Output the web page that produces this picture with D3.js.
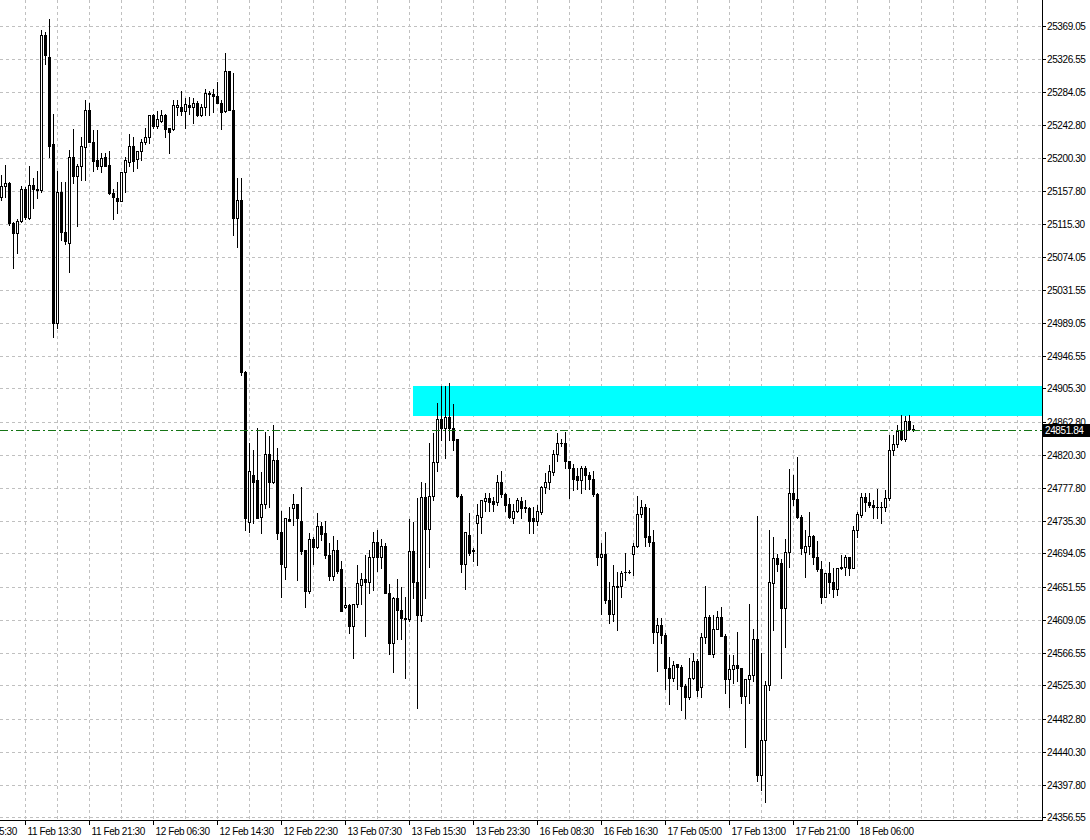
<!DOCTYPE html>
<html>
<head>
<meta charset="utf-8">
<script src="https://cdn.jsdelivr.net/npm/d3@7"></script>
<style>
  body { margin: 0; background: #fff; }
  svg text { font-family: "Liberation Sans", Arial, sans-serif; font-size: 10px; letter-spacing: -0.4px; fill: #000; }
</style>
</head>
<body>
<script>
var width = 1090,
    height = 840,
    plotRight = 1042,
    plotBottom = 821;

// M30 bars, oldest first
var open = [25150,25164,25168,25117,25104,25120,25161,25123,25165,25160,25159,25357,25330,25218,24989,25157,25106,25092,25202,25177,
  25190,25214,25262,25220,25197,25190,25201,25191,25155,25149,25145,25182,25195,25215,25199,25209,25220,25227,25255,25241,
  25248,25255,25238,25237,25265,25266,25260,25268,25265,25271,25255,25265,25282,25282,25279,25271,25260,25311,25262,25123,
  25147,24926,24734,24794,24788,24741,24757,24821,24786,24814,24721,24677,24738,24752,24757,24735,24698,24646,24713,24702,
  24729,24720,24692,24665,24699,24674,24625,24628,24601,24629,24654,24662,24658,24690,24709,24690,24704,24644,24579,24637,
  24622,24611,24610,24697,24657,24615,24766,24726,24767,24811,24866,24854,24869,24855,24840,24768,24681,24718,24699,24733,
  24741,24761,24765,24761,24760,24786,24770,24757,24740,24748,24761,24753,24752,24739,24736,24747,24779,24785,24798,24821,
  24836,24835,24812,24803,24793,24788,24804,24795,24790,24770,24689,24693,24634,24617,24653,24652,24671,24671,24693,24703,
  24744,24753,24716,24709,24593,24602,24590,24547,24535,24552,24549,24525,24510,24535,24557,24523,24587,24613,24566,24598,
  24613,24589,24533,24546,24551,24547,24512,24533,24539,24584,24411,24455,24526,24656,24688,24682,24624,24696,24772,24764,
  24741,24696,24703,24716,24690,24674,24639,24669,24657,24648,24675,24677,24689,24676,24724,24743,24766,24760,24756,24754,
  24754,24753,24765,24826,24834,24851,24840,24863,24853];
var high = [25179,25191,25170,25118,25122,25164,25163,25190,25175,25183,25364,25361,25378,25257,25183,25169,25169,25210,25237,25193,
  25227,25274,25270,25236,25236,25206,25207,25209,25161,25170,25182,25202,25231,25227,25209,25224,25238,25255,25256,25260,
  25261,25257,25239,25274,25274,25286,25277,25278,25277,25273,25269,25288,25286,25288,25298,25274,25335,25312,25309,25175,
  25174,24927,24836,24827,24855,24798,24849,24844,24858,24829,24749,24739,24754,24770,24758,24779,24699,24720,24715,24746,
  24734,24736,24707,24717,24711,24685,24651,24629,24629,24679,24669,24692,24699,24722,24724,24713,24707,24655,24638,24661,
  24651,24638,24738,24734,24765,24785,24784,24835,24848,24886,24909,24909,24912,24885,24841,24770,24721,24746,24701,24758,
  24763,24771,24772,24766,24795,24799,24771,24765,24758,24765,24766,24762,24753,24753,24756,24780,24797,24807,24826,24848,
  24841,24849,24813,24809,24804,24806,24806,24798,24800,24771,24707,24722,24657,24679,24670,24672,24695,24673,24708,24768,
  24762,24757,24752,24724,24611,24611,24592,24561,24557,24553,24551,24527,24560,24567,24559,24592,24653,24615,24615,24621,
  24625,24591,24564,24564,24594,24548,24533,24630,24598,24742,24567,24531,24724,24715,24694,24687,24713,24802,24795,24817,
  24743,24724,24747,24718,24710,24685,24669,24683,24675,24675,24692,24692,24690,24729,24747,24771,24771,24772,24762,24777,
  24760,24775,24846,24846,24858,24871,24870,24871,24858];
var low = [25146,25150,25115,25060,25078,25118,25122,25122,25136,25149,25157,25321,25202,24971,24982,25095,25090,25054,25168,25113,
  25172,25172,25220,25183,25186,25182,25190,25154,25122,25130,25145,25157,25190,25183,25187,25197,25218,25219,25239,25239,
  25246,25227,25207,25236,25255,25255,25239,25257,25245,25254,25254,25255,25255,25259,25270,25237,25259,25261,25101,25086,
  24923,24724,24721,24733,24739,24720,24752,24753,24784,24713,24638,24661,24736,24730,24660,24694,24625,24644,24680,24701,
  24711,24688,24660,24660,24669,24620,24624,24592,24560,24625,24630,24589,24644,24647,24672,24675,24643,24566,24542,24585,
  24585,24535,24608,24637,24496,24608,24637,24677,24762,24799,24839,24816,24839,24826,24766,24670,24648,24692,24685,24679,
  24720,24749,24749,24749,24756,24766,24749,24739,24733,24747,24740,24747,24720,24720,24730,24745,24771,24777,24794,24813,
  24832,24803,24765,24775,24777,24772,24777,24777,24768,24679,24617,24631,24605,24608,24596,24638,24660,24669,24667,24702,
  24741,24703,24704,24579,24544,24579,24521,24502,24531,24521,24494,24484,24508,24534,24512,24510,24579,24565,24562,24597,
  24588,24516,24498,24528,24531,24503,24446,24503,24531,24403,24391,24376,24519,24596,24672,24535,24575,24677,24756,24740,
  24694,24664,24694,24681,24672,24631,24638,24644,24638,24641,24674,24666,24666,24675,24715,24741,24749,24753,24739,24740,
  24733,24749,24763,24820,24830,24839,24838,24852,24851];
var close = [25164,25168,25117,25104,25120,25161,25124,25165,25160,25159,25357,25332,25216,24989,25157,25105,25094,25202,25177,25190,
  25215,25261,25221,25196,25190,25200,25190,25155,25150,25145,25182,25197,25215,25196,25209,25221,25227,25255,25241,25250,
  25255,25237,25234,25268,25268,25260,25269,25265,25271,25255,25266,25283,25283,25279,25271,25259,25311,25262,25123,25147,
  24926,24739,24800,24786,24740,24757,24822,24786,24814,24720,24681,24739,24736,24757,24739,24697,24646,24713,24702,24729,
  24719,24692,24665,24699,24672,24621,24628,24601,24629,24656,24662,24658,24689,24709,24689,24704,24644,24579,24637,24622,
  24611,24610,24697,24657,24615,24766,24726,24768,24811,24866,24854,24869,24855,24839,24767,24681,24721,24695,24697,24743,
  24762,24765,24760,24758,24785,24770,24756,24741,24749,24762,24752,24752,24736,24736,24749,24779,24786,24799,24821,24835,
  24835,24812,24803,24790,24788,24804,24795,24790,24770,24689,24693,24634,24617,24652,24651,24669,24670,24671,24704,24744,
  24753,24715,24709,24593,24602,24590,24547,24535,24551,24549,24524,24510,24535,24557,24520,24587,24613,24566,24598,24613,
  24589,24533,24546,24551,24547,24512,24533,24539,24584,24411,24455,24526,24657,24688,24681,24624,24696,24772,24764,24741,
  24701,24703,24716,24690,24674,24639,24669,24657,24648,24675,24677,24689,24676,24724,24744,24766,24760,24756,24754,24754,
  24753,24765,24826,24834,24851,24840,24863,24853,24851.84];

var lastPrice = 24851.84;

var yTicks = [25369.05,25326.55,25284.05,25242.80,25200.30,25157.80,25115.30,25074.05,25031.55,24989.05,24946.55,24905.30,
  24862.80,24820.30,24777.80,24735.30,24694.05,24651.55,24609.05,24566.55,24525.30,24482.80,24440.30,24397.80,24356.55];

var timeLabels = ["11 Feb 05:30","11 Feb 13:30","11 Feb 21:30","12 Feb 06:30","12 Feb 14:30","12 Feb 22:30","13 Feb 07:30",
  "13 Feb 15:30","13 Feb 23:30","16 Feb 08:30","16 Feb 16:30","17 Feb 05:00","17 Feb 13:00","17 Feb 21:00","18 Feb 06:00"];
var timeTickBars = [-10,6,22,38,54,70,86,102,118,134,150,166,182,198,214];

// supply zone rectangle
var zoneTop = 24908.4,
    zoneBottom = 24870,
    zoneStartBar = 103,
    zoneEndBar = 270;

var x = d3.scaleLinear()
    .domain([0, 260])
    .range([1.5, 1041.5]);

var y = d3.scaleLinear()
    .domain([24397.80, 25369.05])
    .range([785, 26])
    .interpolate(d3.interpolateRound);

var svg = d3.select("body").append("svg")
    .attr("width", width)
    .attr("height", height);

svg.append("rect")
    .attr("width", width)
    .attr("height", height)
    .attr("fill", "#fff");

svg.append("defs").append("clipPath")
    .attr("id", "plot")
  .append("rect")
    .attr("x", 0)
    .attr("y", 0)
    .attr("width", plotRight)
    .attr("height", plotBottom);

// grid
var grid = svg.append("g")
    .attr("stroke", "#c0c0c0")
    .attr("stroke-dasharray", "3,3")
    .attr("shape-rendering", "crispEdges");

grid.selectAll(".hgrid")
    .data(yTicks)
  .enter().append("line")
    .attr("class", "hgrid")
    .attr("x1", 0)
    .attr("x2", plotRight)
    .attr("y1", function(d) { return y(d) + 0.5; })
    .attr("y2", function(d) { return y(d) + 0.5; });

grid.selectAll(".vgrid")
    .data(d3.range(6, 260, 8))
  .enter().append("line")
    .attr("class", "vgrid")
    .attr("x1", function(d) { return x(d); })
    .attr("x2", function(d) { return x(d); })
    .attr("y1", 0)
    .attr("y2", plotBottom);

var plot = svg.append("g")
    .attr("clip-path", "url(#plot)");

plot.append("rect")
    .attr("x", x(zoneStartBar) - 0.5)
    .attr("y", y(zoneTop))
    .attr("width", x(zoneEndBar) - x(zoneStartBar))
    .attr("height", y(zoneBottom) - y(zoneTop))
    .attr("fill", "#00ffff");

var bars = close.map(function(c, i) {
  return { i: i, o: open[i], h: high[i], l: low[i], c: c };
});

var candle = plot.selectAll(".bar")
    .data(bars)
  .enter().append("g")
    .attr("class", "bar");

candle.append("line")
    .attr("x1", function(d) { return x(d.i); })
    .attr("x2", function(d) { return x(d.i); })
    .attr("y1", function(d) { return y(Math.max(d.h, d.o, d.c)); })
    .attr("y2", function(d) { return y(Math.min(d.l, d.o, d.c)) + 1; })
    .attr("stroke", "#000")
    .attr("stroke-width", 1);

candle.append("rect")
    .attr("x", function(d) { return d.c > d.o ? x(d.i) - 1 : x(d.i) - 1.5; })
    .attr("y", function(d) { return y(Math.max(d.o, d.c)) + (d.c > d.o ? 0.5 : 0); })
    .attr("width", function(d) { return d.c > d.o ? 2 : 3; })
    .attr("height", function(d) {
      var hgt = y(Math.min(d.o, d.c)) - y(Math.max(d.o, d.c));
      return d.c > d.o ? Math.max(1, hgt) : hgt + 1;
    })
    .attr("fill", function(d) { return d.c > d.o ? "#fff" : "#000"; })
    .attr("stroke", function(d) { return d.c > d.o ? "#000" : "none"; })
    .attr("stroke-width", 1);

// bid line
svg.append("line")
    .attr("x1", 0)
    .attr("x2", plotRight)
    .attr("y1", y(lastPrice) + 0.5)
    .attr("y2", y(lastPrice) + 0.5)
    .attr("stroke", "#167516")
    .attr("stroke-dasharray", "8,3,2,3");

// axes
var xAxis = d3.axisBottom(x)
    .tickValues(timeTickBars)
    .tickFormat(function(d, i) { return timeLabels[i]; })
    .tickSize(4)
    .tickPadding(3)
    .offset(0);

var gx = svg.append("g")
    .attr("transform", "translate(0," + plotBottom + ")")
    .call(xAxis);
gx.select(".domain").remove();
gx.selectAll("line").attr("stroke", "#000");
gx.selectAll("text")
    .attr("text-anchor", "start")
    .attr("x", 2);

var yAxis = d3.axisRight(y)
    .tickValues(yTicks)
    .tickFormat(d3.format(".2f"))
    .tickSize(4)
    .tickPadding(1);

var gy = svg.append("g")
    .attr("transform", "translate(" + plotRight + ",0)")
    .call(yAxis);
gy.select(".domain").remove();
gy.selectAll("line").attr("stroke", "#000");

svg.append("line")
    .attr("x1", plotRight + 0.5)
    .attr("x2", plotRight + 0.5)
    .attr("y1", 0)
    .attr("y2", plotBottom)
    .attr("stroke", "#000");

svg.append("line")
    .attr("x1", 0)
    .attr("x2", plotRight + 1)
    .attr("y1", plotBottom - 0.5)
    .attr("y2", plotBottom - 0.5)
    .attr("stroke", "#000");

// current price label
svg.append("rect")
    .attr("x", plotRight + 1)
    .attr("y", y(lastPrice) - 6)
    .attr("width", width - plotRight - 1)
    .attr("height", 13)
    .attr("fill", "#000");

svg.append("text")
    .attr("x", plotRight + 3)
    .attr("y", y(lastPrice) + 0.5)
    .attr("dy", "0.35em")
    .style("fill", "#fff")
    .text(lastPrice.toFixed(2));
</script>
</body>
</html>
